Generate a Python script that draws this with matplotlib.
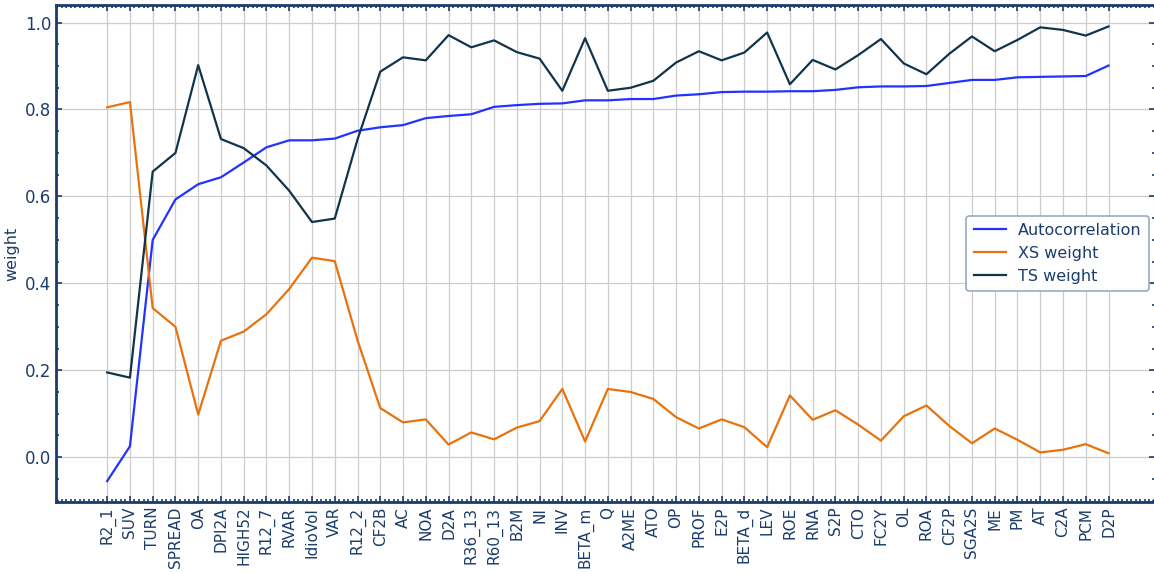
import matplotlib
matplotlib.use("Agg")
import matplotlib.pyplot as plt
from matplotlib.ticker import MultipleLocator
import numpy as np

factors = ["R2_1", "SUV", "TURN", "SPREAD", "OA", "DPI2A", "HIGH52", "R12_7", "RVAR",
           "IdioVol", "VAR", "R12_2", "CF2B", "AC", "NOA", "D2A", "R36_13", "R60_13",
           "B2M", "NI", "INV", "BETA_m", "Q", "A2ME", "ATO", "OP", "PROF", "E2P",
           "BETA_d", "LEV", "ROE", "RNA", "S2P", "CTO", "FC2Y", "OL", "ROA", "CF2P",
           "SGA2S", "ME", "PM", "AT", "C2A", "PCM", "D2P"]

autocorr = [-0.055, 0.025, 0.500, 0.593, 0.628, 0.644, 0.678, 0.713, 0.729,
            0.729, 0.733, 0.751, 0.759, 0.764, 0.780, 0.785, 0.789, 0.806,
            0.810, 0.813, 0.814, 0.821, 0.821, 0.824, 0.824, 0.832, 0.835, 0.840,
            0.841, 0.841, 0.842, 0.842, 0.845, 0.851, 0.853, 0.853, 0.854, 0.861,
            0.868, 0.868, 0.874, 0.875, 0.876, 0.877, 0.901]

xs_weight = [0.805, 0.817, 0.343, 0.300, 0.098, 0.268, 0.289, 0.329, 0.387,
             0.459, 0.451, 0.269, 0.113, 0.080, 0.087, 0.029, 0.057, 0.041,
             0.068, 0.083, 0.157, 0.036, 0.157, 0.150, 0.134, 0.092, 0.066, 0.087,
             0.069, 0.023, 0.142, 0.086, 0.108, 0.075, 0.038, 0.094, 0.119, 0.072,
             0.032, 0.066, 0.040, 0.011, 0.017, 0.030, 0.009]

ts_weight = [0.195, 0.183, 0.657, 0.700, 0.902, 0.732, 0.711, 0.671, 0.613,
             0.541, 0.549, 0.731, 0.887, 0.920, 0.913, 0.971, 0.943, 0.959,
             0.932, 0.917, 0.843, 0.964, 0.843, 0.850, 0.866, 0.908, 0.934, 0.913,
             0.931, 0.977, 0.858, 0.914, 0.892, 0.925, 0.962, 0.906, 0.881, 0.928,
             0.968, 0.934, 0.960, 0.989, 0.983, 0.970, 0.991]

navy = "#1b3d6b"

fig = plt.figure(figsize=(11.54, 5.73), dpi=100)
ax = fig.add_axes([0.0485, 0.124, 0.9525, 0.867])

x = np.arange(len(factors))
ax.plot(x, autocorr, color="#2233ff", linewidth=1.6, label="Autocorrelation")
ax.plot(x, xs_weight, color="#e8730c", linewidth=1.6, label="XS weight")
ax.plot(x, ts_weight, color="#12344b", linewidth=1.6, label="TS weight")

ax.set_xticks(x)
ax.set_xticklabels(factors, rotation=90)
ax.xaxis.set_minor_locator(MultipleLocator(0.2))
ax.yaxis.set_major_locator(MultipleLocator(0.2))
ax.yaxis.set_minor_locator(MultipleLocator(0.05))
ax.set_xlim(-2.25, 46.05)
ax.set_ylim(-0.103, 1.04)

ax.grid(True, which="major", color="#cccccc", linewidth=0.9)
ax.set_axisbelow(True)

ax.tick_params(which="both", direction="in", top=True, right=True,
               colors=navy, labelsize=12, width=1.2)
ax.tick_params(axis="x", labelsize=11)
ax.tick_params(which="major", length=4)
ax.tick_params(which="minor", length=2.5)
for s in ax.spines.values():
    s.set_color(navy)
    s.set_linewidth(2)

ax.set_ylabel("weight", fontsize=11.5, color=navy)

leg = ax.legend(loc="center right", bbox_to_anchor=(0.9945, 0.5), borderaxespad=0,
                fontsize=11.5, framealpha=1, fancybox=True, borderpad=0.45,
                labelspacing=0.5)
leg.get_frame().set_edgecolor("#9aaabd")
leg.get_frame().set_linewidth(1.2)
for t in leg.get_texts():
    t.set_color(navy)

fig.savefig("out.png", dpi=100, facecolor="white")
